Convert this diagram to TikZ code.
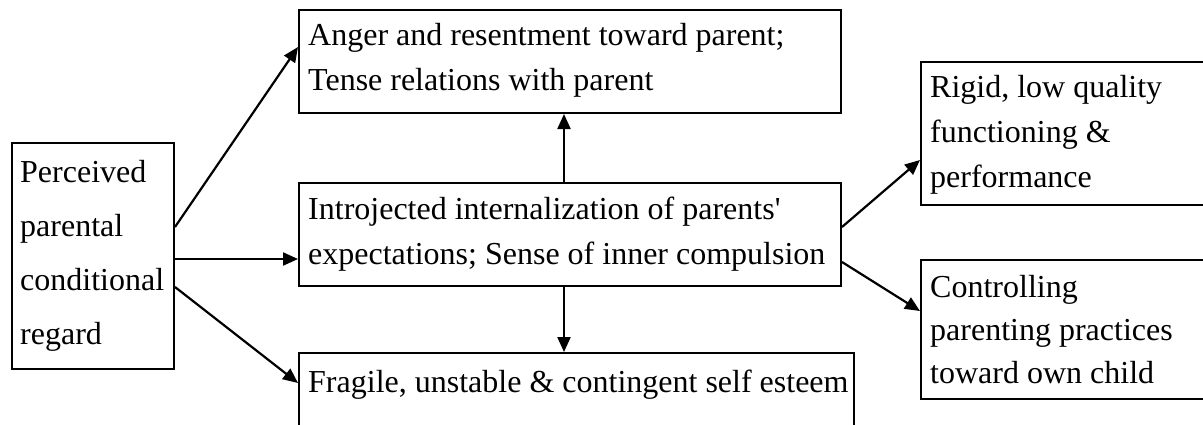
\documentclass[tikz,border=0pt]{standalone}
\usepackage{fontspec}
\setmainfont{Liberation Serif}
\usetikzlibrary{arrows.meta}
\begin{document}
\begin{tikzpicture}[x=1pt,y=-1pt,
  box/.style={draw, line width=2pt, inner sep=0pt, anchor=north west},
  arr/.style={line width=2.2pt, -{Triangle[length=15pt,width=13pt]}},
  lbl/.style={inner sep=0pt, anchor=base west, font=\fontsize{32}{45}\selectfont},
  lblwide/.style={inner sep=0pt, anchor=base west, font=\fontsize{32}{54}\selectfont},
  lblright/.style={inner sep=0pt, anchor=base west, font=\fontsize{32}{43}\selectfont}]
\clip (0,0) rectangle (1203,424);
% boxes
\node[box, minimum width=162pt, minimum height=226pt] (L) at (11,142) {};
\node[box, minimum width=542pt, minimum height=103pt] (T) at (298,9) {};
\node[box, minimum width=542pt, minimum height=103pt] (M) at (298,182) {};
\node[box, minimum width=555pt, minimum height=110pt] (B) at (298,352) {};
\node[box, minimum width=320pt, minimum height=143pt] (RT) at (920,61) {};
\node[box, minimum width=320pt, minimum height=139pt] (RB) at (920,259) {};
% texts
\node[lblwide] (tL) at (20,182) {\begin{tabular}[t]{@{}l@{}}Perceived\\parental\\conditional\\regard\end{tabular}};
\node[lbl] (tT) at (308,45) {\begin{tabular}[t]{@{}l@{}}Anger and resentment toward parent;\\Tense relations with parent\end{tabular}};
\node[lbl] (tM) at (308,219) {\begin{tabular}[t]{@{}l@{}}Introjected internalization of parents\textquotesingle\\expectations; Sense of inner compulsion\end{tabular}};
\node[lbl] (tB) at (308,392) {Fragile, unstable \& contingent self esteem};
\node[lbl] (tRT) at (930,97) {\begin{tabular}[t]{@{}l@{}}Rigid, low quality\\functioning \&\\performance\end{tabular}};
\node[lblright] (tRB) at (930,297) {\begin{tabular}[t]{@{}l@{}}Controlling\\parenting practices\\toward own child\end{tabular}};
% connectors
\draw[arr] ([yshift=-85pt]L.north east) -- ([yshift=-38pt]T.north west);
\draw[arr] ([yshift=-117pt]L.north east) -- ([yshift=-77pt]M.north west);
\draw[arr] ([yshift=-145pt]L.north east) -- ([yshift=-31pt]B.north west);
\draw[arr] ([xshift=266pt]M.north west) -- ([xshift=266pt]T.south west);
\draw[arr] ([xshift=266pt]M.south west) -- ([xshift=266pt]B.north west);
\draw[arr] ([yshift=-45pt]M.north east) -- ([yshift=-99pt]RT.north west);
\draw[arr] ([yshift=-80pt]M.north east) -- ([yshift=-52pt]RB.north west);
\end{tikzpicture}
\end{document}
